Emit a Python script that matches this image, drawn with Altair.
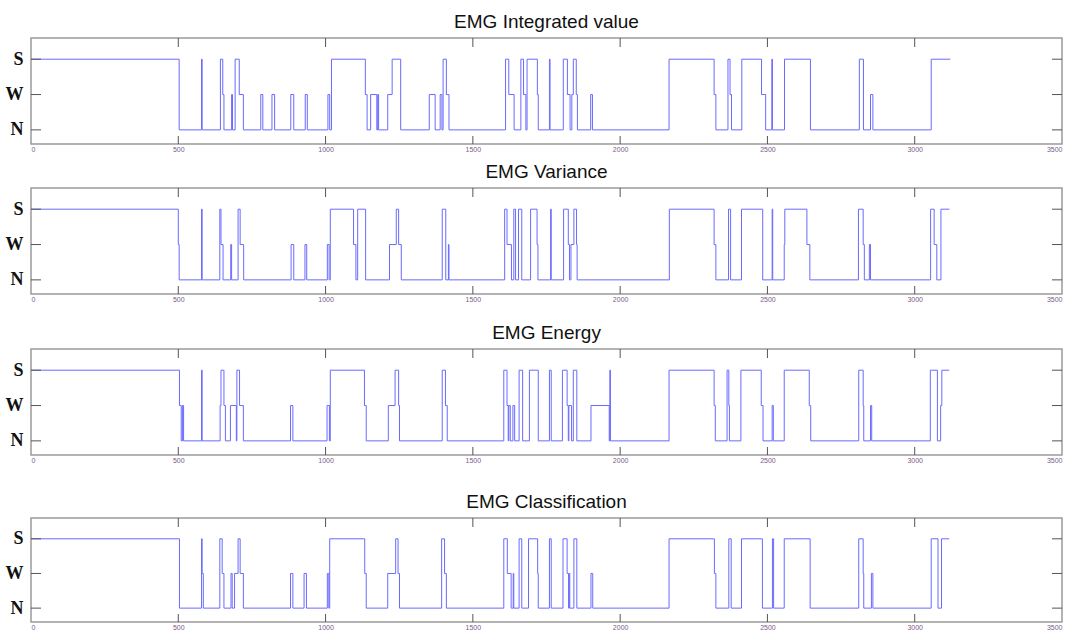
import altair as alt
import pandas as pd

# ---------------- data (change points, step-after) ----------------
LEVEL_NAMES = ["N", "W", "S"]
X_TICKS = [0, 500, 1000, 1500, 2000, 2500, 3000, 3500]

IV_X = [0, 503, 579, 581, 643, 651, 655, 681, 684, 693, 707, 721, 780, 787, 818, 827, 882, 892,
        931, 938, 1008, 1014, 1020, 1135, 1141, 1153, 1174, 1177, 1180, 1211, 1226, 1255, 1352,
        1372, 1389, 1395, 1399, 1410, 1419, 1611, 1622, 1640, 1663, 1672, 1680, 1684, 1719, 1722,
        1760, 1762, 1807, 1821, 1830, 1836, 1841, 1851, 1855, 1900, 1906, 2166, 2319, 2325, 2366,
        2373, 2378, 2413, 2480, 2494, 2515, 2517, 2558, 2646, 2812, 2826, 2850, 2858, 3056, 3121]
IV_L = ["S", "N", "S", "N", "S", "W", "N", "W", "N", "S", "W", "N", "W", "N", "W", "N", "W", "N",
        "W", "N", "W", "N", "S", "W", "N", "W", "N", "W", "N", "W", "S", "N", "W",
        "N", "W", "N", "S", "W", "N", "S", "W", "N", "S", "W", "N", "S", "W", "N",
        "S", "N", "S", "W", "N", "W", "S", "W", "N", "W", "N", "S", "W", "N", "S",
        "W", "N", "S", "W", "N", "S", "N", "S", "N", "S", "N", "W", "N", "S", "S"]

VAR_X = [0, 500, 503, 579, 581, 641, 645, 652, 678, 681, 703, 710, 722, 883, 892, 930, 936,
         1006, 1012, 1016, 1095, 1103, 1109, 1136, 1217, 1240, 1248, 1257, 1396, 1408, 1417, 1419,
         1608, 1616, 1631, 1639, 1645, 1655, 1666, 1696, 1718, 1721, 1764, 1766, 1808, 1824, 1828,
         1833, 1843, 1852, 1854, 2167, 2319, 2325, 2368, 2375, 2412, 2484, 2516, 2518, 2557, 2559,
         2634, 2644, 2809, 2825, 2829, 2846, 2850, 3054, 3066, 3075, 3089, 3118]
VAR_L = ["S", "W", "N", "S", "N", "S", "W", "N", "W", "N", "S", "W", "N", "W", "N", "W", "N",
         "W", "N", "S", "W", "N", "S", "N", "W", "S", "W", "N", "S", "N", "W", "N",
         "S", "W", "N", "S", "N", "S", "N", "S", "W", "N", "S", "N", "S", "W", "N",
         "W", "S", "W", "N", "S", "W", "N", "S", "N", "S", "N", "S", "N", "W", "S",
         "W", "N", "S", "W", "N", "W", "N", "S", "W", "N", "S", "S"]

EN_X = [0, 504, 510, 514, 518, 579, 581, 642, 645, 655, 660, 677, 697, 699, 708, 721, 881, 889,
        1005, 1013, 1016, 1132, 1138, 1213, 1236, 1248, 1251, 1396, 1407, 1413, 1605, 1616, 1620,
        1622, 1627, 1636, 1642, 1657, 1669, 1692, 1722, 1760, 1766, 1804, 1820, 1824, 1826, 1835,
        1841, 1853, 1901, 1963, 1965, 1967, 2166, 2319, 2323, 2363, 2369, 2371, 2410, 2479, 2485,
        2516, 2520, 2557, 2642, 2647, 2810, 2825, 2827, 2850, 2854, 3053, 3077, 3088, 3092, 3117]
EN_L = ["S", "W", "N", "W", "N", "S", "N", "W", "S", "W", "N", "W", "N", "S", "W", "N", "W", "N",
        "W", "N", "S", "W", "N", "W", "S", "W", "N", "S", "W", "N", "S", "W", "N",
        "W", "N", "W", "N", "S", "N", "S", "N", "S", "N", "S", "W", "N", "W", "N",
        "S", "N", "W", "N", "S", "N", "S", "W", "N", "S", "W", "N", "S", "W", "N",
        "W", "N", "S", "W", "N", "S", "W", "N", "W", "N", "S", "N", "W", "S", "S"]

CL_X = [0, 504, 579, 581, 585, 641, 649, 655, 679, 683, 691, 703, 710, 721, 881, 889, 927, 935,
        1006, 1011, 1014, 1133, 1138, 1211, 1238, 1246, 1251, 1394, 1404, 1410, 1605, 1617, 1630,
        1637, 1639, 1657, 1666, 1689, 1720, 1722, 1760, 1766, 1806, 1820, 1825, 1827, 1829, 1843,
        1853, 1901, 1907, 2166, 2320, 2325, 2369, 2377, 2412, 2483, 2517, 2521, 2557, 2645, 2810,
        2825, 2827, 2853, 2858, 3056, 3079, 3091, 3117]
CL_L = ["S", "N", "S", "W", "N", "S", "W", "N", "W", "N", "W", "S", "W", "N", "W", "N", "W", "N",
        "W", "N", "S", "W", "N", "W", "S", "W", "N", "S", "W", "N", "S", "W", "N",
        "W", "N", "S", "N", "S", "W", "N", "S", "N", "S", "W", "N", "W", "N", "S",
        "N", "W", "N", "S", "W", "N", "S", "N", "S", "N", "S", "N", "S", "N", "S",
        "W", "N", "W", "N", "S", "N", "S", "S"]

PANELS = [
    ("EMG Integrated value", IV_X, IV_L, 106),
    ("EMG Variance", VAR_X, VAR_L, 106),
    ("EMG Energy", EN_X, EN_L, 106),
    ("EMG Classification", CL_X, CL_L, 104),
]

W = 1031
LINE_COLOR = "#6a6aff"
TICK_COLOR = "#555555"

xscale = alt.Scale(domain=[0, 3500], nice=False, zero=False)
yscale = alt.Scale(domain=[-0.4, 2.6], nice=False, zero=False)

ytick_df = pd.DataFrame({"v": list(range(len(LEVEL_NAMES)))})
xtick_df = pd.DataFrame({"t": X_TICKS[1:-1]})


def panel(title, xs, ls, h):
    df = pd.DataFrame({"x": xs, "v": [LEVEL_NAMES.index(l) for l in ls]})
    line = alt.Chart(df).mark_line(
        interpolate="step-after", color=LINE_COLOR, strokeWidth=1, clip=True
    ).encode(
        x=alt.X("x:Q", scale=xscale, title=None,
                axis=alt.Axis(values=X_TICKS, ticks=False, domain=False, grid=False,
                              format="d",
                              labelFontSize=7, labelColor="#7a5a8c", labelPadding=1,
                              labelFont="Liberation Sans")),
        y=alt.Y("v:Q", scale=yscale, title=None,
                axis=alt.Axis(values=[0, 1, 2], ticks=False, domain=False, grid=False,
                              labelExpr="['N','W','S'][datum.value]",
                              labelFont="Liberation Serif", labelFontWeight="bold",
                              labelFontSize=18, labelColor="#111111", labelPadding=8)),
    )
    yl = alt.Chart(ytick_df).mark_rule(color=TICK_COLOR, strokeWidth=1).encode(
        y="v:Q", x=alt.value(0), x2=alt.value(10))
    yr = alt.Chart(ytick_df).mark_rule(color=TICK_COLOR, strokeWidth=1).encode(
        y="v:Q", x=alt.value(W - 10), x2=alt.value(W))
    xt = alt.Chart(xtick_df).mark_rule(color=TICK_COLOR, strokeWidth=1).encode(
        x="t:Q", y=alt.value(0), y2=alt.value(9))
    xb = alt.Chart(xtick_df).mark_rule(color=TICK_COLOR, strokeWidth=1).encode(
        x="t:Q", y=alt.value(h), y2=alt.value(h - 8))
    return alt.layer(line, yl, yr, xt, xb).properties(
        width=W, height=h,
        title=alt.TitleParams(title, fontSize=19, font="Liberation Sans",
                              fontWeight="normal", color="#111111", offset=6, anchor="middle"),
    )


p = [panel(*args) for args in PANELS]

chart = alt.vconcat(
    alt.vconcat(p[0], p[1], spacing=8),
    alt.vconcat(p[2], p[3], spacing=27),
    spacing=19,
).properties(
    padding={"left": 4, "top": 11, "right": 5, "bottom": 0},
    background="white",
).configure_view(
    stroke="#9a9a9a", strokeWidth=1.5
)

chart.save("out.html", embed_options={"renderer": "svg", "actions": False})
